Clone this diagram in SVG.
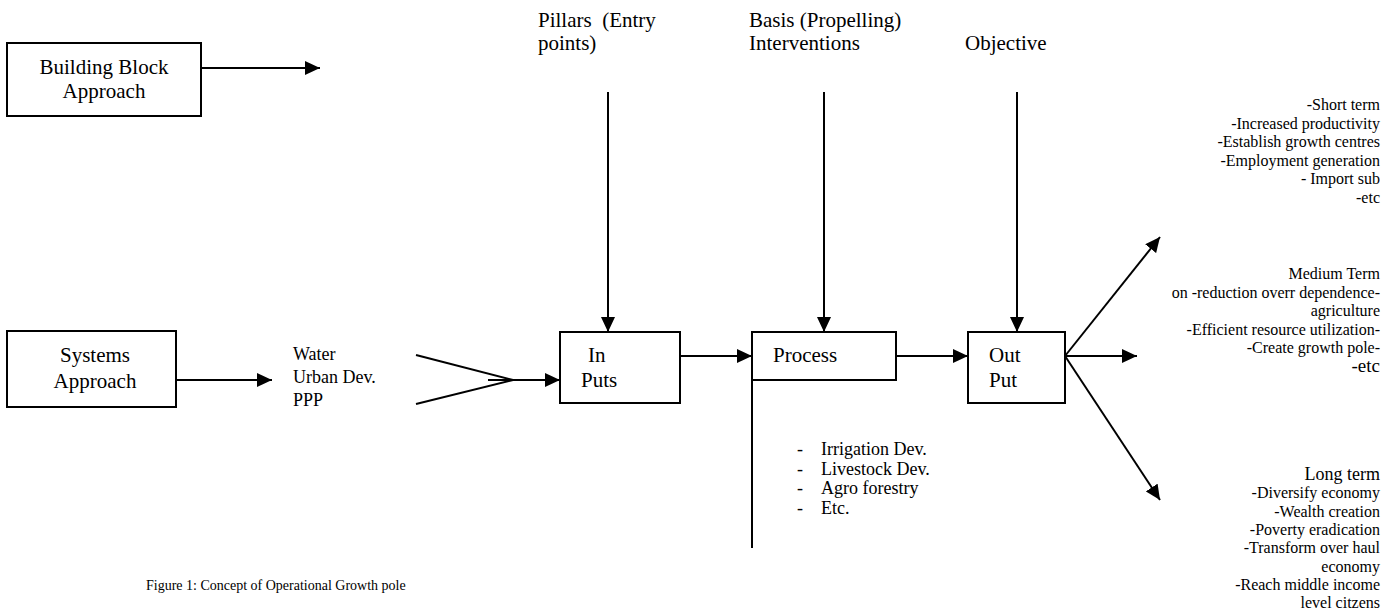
<svg xmlns="http://www.w3.org/2000/svg" width="1397" height="616" viewBox="0 0 1397 616">
<style>
.box{fill:#fff;stroke:#000;stroke-width:2}
.ln{fill:none;stroke:#000;stroke-width:2}
.t{font-family:"Liberation Serif","Times New Roman",serif;fill:#000}
.m{font-size:21px}
.w{font-size:18px}
.s{font-size:16px}
.r{text-anchor:end}
.c{text-anchor:middle}
</style>
<defs>
<marker id="ah" markerUnits="userSpaceOnUse" markerWidth="16" markerHeight="14" refX="15" refY="7" orient="auto">
<path d="M0,0 L15,7 L0,14 Z" fill="#000"/>
</marker>
</defs>
<rect width="1397" height="616" fill="#fff"/>
<g id="connectors">
<line class="ln" x1="201" y1="68" x2="320" y2="68" marker-end="url(#ah)"/>
<line class="ln" x1="176" y1="380" x2="272" y2="380" marker-end="url(#ah)"/>
<line class="ln" x1="416" y1="355" x2="513" y2="380"/>
<line class="ln" x1="416" y1="404" x2="513" y2="380"/>
<line class="ln" x1="488" y1="380" x2="560" y2="380" marker-end="url(#ah)"/>
<line class="ln" x1="608" y1="92" x2="608" y2="332" marker-end="url(#ah)"/>
<line class="ln" x1="824" y1="92" x2="824" y2="332" marker-end="url(#ah)"/>
<line class="ln" x1="1017" y1="92" x2="1017" y2="332" marker-end="url(#ah)"/>
<line class="ln" x1="680" y1="356" x2="752" y2="356" marker-end="url(#ah)"/>
<line class="ln" x1="896" y1="356" x2="968" y2="356" marker-end="url(#ah)"/>
<line class="ln" x1="752" y1="380" x2="752" y2="548"/>
<line class="ln" x1="1065" y1="356" x2="1160" y2="237" marker-end="url(#ah)"/>
<line class="ln" x1="1065" y1="356" x2="1137" y2="356" marker-end="url(#ah)"/>
<line class="ln" x1="1065" y1="356" x2="1160" y2="500" marker-end="url(#ah)"/>
</g>
<g id="building-block">
<rect class="box" x="7" y="43" width="194" height="73"/>
<text class="t m c" x="104" y="74">Building Block</text>
<text class="t m c" x="104" y="98">Approach</text>
</g>
<g id="systems-approach">
<rect class="box" x="7" y="331" width="169" height="76"/>
<text class="t m c" x="95" y="362">Systems</text>
<text class="t m c" x="95" y="388">Approach</text>
</g>
<g id="sectors">
<text class="t w" x="293" y="360">Water</text>
<text class="t w" x="293" y="383">Urban Dev.</text>
<text class="t w" x="293" y="406">PPP</text>
</g>
<g id="pillars">
<text class="t m" x="538" y="27" xml:space="preserve">Pillars  (Entry</text>
<text class="t m" x="538" y="50">points)</text>
</g>
<g id="basis">
<text class="t m" x="749" y="27">Basis (Propelling)</text>
<text class="t m" x="749" y="50">Interventions</text>
</g>
<g id="objective">
<text class="t m" x="965" y="50">Objective</text>
</g>
<g id="inputs">
<rect class="box" x="560" y="332" width="120" height="71"/>
<text class="t m" x="588" y="362">In</text>
<text class="t m" x="581" y="387">Puts</text>
</g>
<g id="process">
<rect class="box" x="752" y="332" width="144" height="48"/>
<text class="t m" x="773" y="362">Process</text>
</g>
<g id="output">
<rect class="box" x="968" y="332" width="97" height="71"/>
<text class="t m" x="989" y="362">Out</text>
<text class="t m" x="989" y="387">Put</text>
</g>
<g id="interventions-list">
<text class="t w" x="797" y="455">-</text><text class="t w" x="821" y="455">Irrigation Dev.</text>
<text class="t w" x="797" y="474.5">-</text><text class="t w" x="821" y="474.5">Livestock Dev.</text>
<text class="t w" x="797" y="494">-</text><text class="t w" x="821" y="494">Agro forestry</text>
<text class="t w" x="797" y="513.5">-</text><text class="t w" x="821" y="513.5">Etc.</text>
</g>
<g id="short-term">
<text class="t s r" x="1380" y="110">-Short term</text>
<text class="t s r" x="1380" y="128.5">-Increased productivity</text>
<text class="t s r" x="1380" y="147">-Establish growth centres</text>
<text class="t s r" x="1380" y="165.5">-Employment generation</text>
<text class="t s r" x="1380" y="184">- Import sub</text>
<text class="t s r" x="1380" y="202.5">-etc</text>
</g>
<g id="medium-term">
<text class="t s r" x="1380" y="279">Medium Term</text>
<text class="t s r" x="1380" y="298">on -reduction overr dependence-</text>
<text class="t s r" x="1380" y="316">agriculture</text>
<text class="t s r" x="1380" y="335">-Efficient resource utilization-</text>
<text class="t s r" x="1380" y="353">-Create growth pole-</text>
<text class="t r" x="1380" y="372" font-size="19">-etc</text>
</g>
<g id="long-term">
<text class="t r" x="1380" y="480" font-size="18">Long term</text>
<text class="t s r" x="1380" y="498">-Diversify economy</text>
<text class="t s r" x="1380" y="517">-Wealth creation</text>
<text class="t s r" x="1380" y="535">-Poverty eradication</text>
<text class="t s r" x="1380" y="553">-Transform over haul</text>
<text class="t s r" x="1380" y="572">economy</text>
<text class="t s r" x="1380" y="590">-Reach middle income</text>
<text class="t s r" x="1380" y="608">level citzens</text>
</g>
<g id="caption">
<text class="t" x="146" y="590" font-size="14">Figure 1: Concept of Operational Growth pole</text>
</g>
</svg>
